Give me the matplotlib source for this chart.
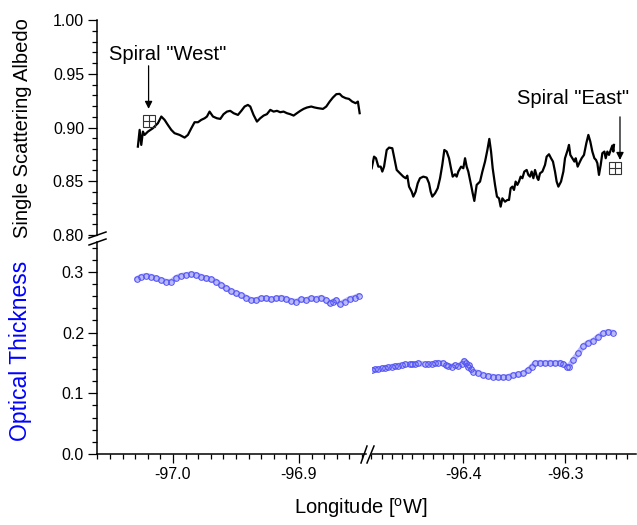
import matplotlib
matplotlib.use('Agg')
import matplotlib.pyplot as plt
from matplotlib.lines import Line2D
from matplotlib.ticker import MultipleLocator, FormatStrFormatter

plt.rcParams['font.family'] = ['Liberation Sans', 'DejaVu Sans']
plt.rcParams['mathtext.fontset'] = 'custom'
plt.rcParams['mathtext.rm'] = 'Liberation Sans'

# single scattering albedo, western leg
lon_alb_w = [-97.0278, -97.0264, -97.0251, -97.0238, -97.0225, -97.0198, -97.0159, -97.0119,
             -97.0092, -97.0066, -97.0040, -97.0013, -96.9987, -96.9947, -96.9907, -96.9881,
             -96.9854, -96.9828, -96.9801, -96.9775, -96.9748, -96.9730, -96.9709, -96.9682,
             -96.9651, -96.9624, -96.9598, -96.9571, -96.9545, -96.9518, -96.9484, -96.9457,
             -96.9431, -96.9405, -96.9386, -96.9360, -96.9333, -96.9307, -96.9280, -96.9254,
             -96.9227, -96.9201, -96.9174, -96.9148, -96.9122, -96.9095, -96.9069, -96.9042,
             -96.9016, -96.8989, -96.8963, -96.8936, -96.8902, -96.8875, -96.8849, -96.8809,
             -96.8783, -96.8756, -96.8730, -96.8703, -96.8677, -96.8656, -96.8629, -96.8603,
             -96.8577, -96.8550, -96.8532, -96.8518]
alb_w = [0.8822, 0.8978, 0.8838, 0.8962, 0.8931, 0.8962, 0.8993, 0.9040,
         0.9102, 0.9071, 0.9024, 0.8978, 0.8947, 0.8931, 0.8906, 0.8931,
         0.8993, 0.9049, 0.9049, 0.9071, 0.9086, 0.9102, 0.9148, 0.9102,
         0.9086, 0.9080, 0.9124, 0.9148, 0.9155, 0.9133, 0.9117, 0.9155,
         0.9195, 0.9210, 0.9195, 0.9117, 0.9055, 0.9086, 0.9111, 0.9124,
         0.9164, 0.9148, 0.9155, 0.9142, 0.9148, 0.9133, 0.9124, 0.9111,
         0.9133, 0.9155, 0.9173, 0.9186, 0.9195, 0.9186, 0.9180, 0.9173,
         0.9195, 0.9241, 0.9279, 0.9310, 0.9313, 0.9288, 0.9273, 0.9266,
         0.9241, 0.9226, 0.9241, 0.9133]

# single scattering albedo, eastern leg
lon_alb_e = [-96.4898, -96.4875, -96.4856, -96.4833, -96.4810, -96.4794, -96.4777, -96.4751,
             -96.4728, -96.4696, -96.4676, -96.4653, -96.4621, -96.4588, -96.4565, -96.4549,
             -96.4532, -96.4506, -96.4490, -96.4467, -96.4447, -96.4425, -96.4392, -96.4359,
             -96.4336, -96.4320, -96.4304, -96.4277, -96.4251, -96.4228, -96.4206, -96.4186,
             -96.4163, -96.4140, -96.4121, -96.4104, -96.4081, -96.4065, -96.4049, -96.4022,
             -96.4000, -96.3983, -96.3967, -96.3951, -96.3924, -96.3908, -96.3892, -96.3869,
             -96.3853, -96.3836, -96.3813, -96.3787, -96.3764, -96.3745, -96.3728, -96.3712,
             -96.3689, -96.3670, -96.3650, -96.3634, -96.3617, -96.3591, -96.3568, -96.3552,
             -96.3536, -96.3519, -96.3503, -96.3487, -96.3470, -96.3454, -96.3438, -96.3421,
             -96.3402, -96.3379, -96.3362, -96.3346, -96.3330, -96.3313, -96.3297, -96.3274,
             -96.3264, -96.3248, -96.3225, -96.3199, -96.3183, -96.3160, -96.3140, -96.3121,
             -96.3101, -96.3085, -96.3068, -96.3042, -96.3019, -96.3003, -96.2977, -96.2964,
             -96.2951, -96.2931, -96.2911, -96.2898, -96.2879, -96.2856, -96.2840, -96.2817,
             -96.2794, -96.2774, -96.2755, -96.2735, -96.2715, -96.2699, -96.2686, -96.2670,
             -96.2653, -96.2637, -96.2617, -96.2604, -96.2588, -96.2572, -96.2555, -96.2539,
             -96.2529, -96.2523]
alb_e = [0.8621, 0.8729, 0.8714, 0.8636, 0.8636, 0.8590, 0.8636, 0.8791,
         0.8813, 0.8807, 0.8714, 0.8605, 0.8574, 0.8543, 0.8528, 0.8552,
         0.8450, 0.8403, 0.8357, 0.8403, 0.8481, 0.8528, 0.8543, 0.8534,
         0.8481, 0.8403, 0.8357, 0.8388, 0.8435, 0.8528, 0.8652, 0.8791,
         0.8776, 0.8714, 0.8621, 0.8543, 0.8565, 0.8543, 0.8590, 0.8636,
         0.8621, 0.8714, 0.8636, 0.8590, 0.8466, 0.8388, 0.8317, 0.8466,
         0.8481, 0.8497, 0.8590, 0.8683, 0.8791, 0.8894, 0.8776, 0.8621,
         0.8466, 0.8357, 0.8341, 0.8264, 0.8341, 0.8310, 0.8326, 0.8326,
         0.8435, 0.8450, 0.8419, 0.8497, 0.8466, 0.8497, 0.8543, 0.8528,
         0.8590, 0.8605, 0.8559, 0.8543, 0.8590, 0.8528, 0.8605, 0.8528,
         0.8512, 0.8574, 0.8590, 0.8652, 0.8729, 0.8751, 0.8714, 0.8683,
         0.8590, 0.8497, 0.8450, 0.8497, 0.8590, 0.8714, 0.8791, 0.8838,
         0.8745, 0.8714, 0.8683, 0.8714, 0.8636, 0.8683, 0.8714, 0.8745,
         0.8854, 0.8931, 0.8869, 0.8776, 0.8714, 0.8698, 0.8668, 0.8559,
         0.8652, 0.8761, 0.8776, 0.8714, 0.8776, 0.8745, 0.8791, 0.8832,
         0.8776, 0.8838]

# optical thickness, western leg
lon_tau_w = [-97.0286, -97.0251, -97.0211, -97.0172, -97.0132, -97.0092, -97.0053, -97.0013,
             -96.9973, -96.9934, -96.9894, -96.9854, -96.9815, -96.9775, -96.9735, -96.9696,
             -96.9656, -96.9616, -96.9577, -96.9537, -96.9497, -96.9457, -96.9418, -96.9378,
             -96.9338, -96.9299, -96.9259, -96.9219, -96.9180, -96.9140, -96.9100, -96.9061,
             -96.9021, -96.8981, -96.8942, -96.8902, -96.8862, -96.8822, -96.8783, -96.8756,
             -96.8730, -96.8703, -96.8677, -96.8637, -96.8598, -96.8558, -96.8524]
tau_w = [0.2883, 0.2921, 0.2938, 0.2921, 0.2894, 0.2867, 0.2839, 0.2839,
         0.2905, 0.2938, 0.2949, 0.2965, 0.2949, 0.2921, 0.2894, 0.2878,
         0.2839, 0.2784, 0.2729, 0.2685, 0.2647, 0.2619, 0.2576, 0.2537,
         0.2537, 0.2565, 0.2565, 0.2548, 0.2565, 0.2576, 0.2554, 0.2521,
         0.2510, 0.2548, 0.2537, 0.2565, 0.2554, 0.2576, 0.2537, 0.2482,
         0.2510, 0.2537, 0.2466, 0.2510, 0.2554, 0.2576, 0.2608]

# optical thickness, eastern leg
lon_tau_e = [-96.4892, -96.4866, -96.4833, -96.4800, -96.4768, -96.4735, -96.4702, -96.4670,
             -96.4637, -96.4604, -96.4572, -96.4522, -96.4500, -96.4474, -96.4441, -96.4376,
             -96.4343, -96.4310, -96.4277, -96.4245, -96.4196, -96.4173, -96.4147, -96.4114,
             -96.4081, -96.4049, -96.4016, -96.3993, -96.3974, -96.3957, -96.3944, -96.3924,
             -96.3902, -96.3853, -96.3804, -96.3755, -96.3706, -96.3656, -96.3607, -96.3558,
             -96.3509, -96.3460, -96.3411, -96.3362, -96.3330, -96.3297, -96.3248, -96.3199,
             -96.3150, -96.3101, -96.3052, -96.3019, -96.2987, -96.2964, -96.2921, -96.2872,
             -96.2823, -96.2774, -96.2725, -96.2676, -96.2627, -96.2578, -96.2529]
tau_e = [0.1384, 0.1395, 0.1400, 0.1411, 0.1422, 0.1428, 0.1439, 0.1450,
         0.1455, 0.1466, 0.1477, 0.1477, 0.1483, 0.1483, 0.1494, 0.1477,
         0.1483, 0.1483, 0.1494, 0.1505, 0.1494, 0.1466, 0.1450, 0.1439,
         0.1466, 0.1450, 0.1483, 0.1538, 0.1494, 0.1439, 0.1466, 0.1395,
         0.1357, 0.1340, 0.1301, 0.1285, 0.1274, 0.1263, 0.1263, 0.1274,
         0.1301, 0.1313, 0.1329, 0.1384, 0.1439, 0.1494, 0.1505, 0.1494,
         0.1505, 0.1494, 0.1505, 0.1483, 0.1439, 0.1439, 0.1549, 0.1659,
         0.1779, 0.1834, 0.1867, 0.1933, 0.1988, 0.2015, 0.1999]

# spiral locations
spiral_w = (-97.0193, 0.9057)
spiral_e = (-96.2516, 0.8624)

xlim_w = (-97.06, -96.847)
xlim_e = (-96.49, -96.231)
ylim_top = (0.80, 1.00)
ylim_bot = (0.0, 0.35)

W, H = 637, 525
fig = plt.figure(figsize=(W / 100, H / 100), dpi=100)


def add_ax(x0, x1, y0, y1):
    # pixel box -> figure fraction
    return fig.add_axes([x0 / W, 1 - y1 / H, (x1 - x0) / W, (y1 - y0) / H])


ax_ul = add_ax(97.3, 365.7, 20, 235)
ax_ur = add_ax(371.5, 635.7, 20, 235)
ax_ll = add_ax(97.3, 365.7, 241.5, 454)
ax_lr = add_ax(371.5, 635.7, 241.5, 454)

for ax in (ax_ul, ax_ur, ax_ll, ax_lr):
    ax.patch.set_alpha(0)
    for s in ax.spines.values():
        s.set_visible(False)
        s.set_linewidth(1.1)
    ax.tick_params(which='both', direction='out', width=0.9, labelsize=11.5,
                   left=False, bottom=False, labelleft=False, labelbottom=False)
    ax.tick_params(which='major', length=6.5, pad=3)
    ax.tick_params(which='minor', length=3.5)

ax_ul.set_xlim(xlim_w)
ax_ll.set_xlim(xlim_w)
ax_ur.set_xlim(xlim_e)
ax_lr.set_xlim(xlim_e)
ax_ul.set_ylim(ylim_top)
ax_ur.set_ylim(ylim_top)
ax_ll.set_ylim(ylim_bot)
ax_lr.set_ylim(ylim_bot)

# left axes
for ax in (ax_ul, ax_ll):
    ax.spines['left'].set_visible(True)
    ax.tick_params(which='both', left=True, labelleft=True)
ax_ul.yaxis.set_major_locator(MultipleLocator(0.05))
ax_ul.yaxis.set_minor_locator(MultipleLocator(0.01))
ax_ul.yaxis.set_major_formatter(FormatStrFormatter('%.2f'))
ax_ll.yaxis.set_major_locator(MultipleLocator(0.1))
ax_ll.yaxis.set_minor_locator(MultipleLocator(0.02))
ax_ll.yaxis.set_major_formatter(FormatStrFormatter('%.1f'))

# bottom axes
for ax in (ax_ll, ax_lr):
    ax.spines['bottom'].set_visible(True)
    ax.tick_params(which='both', bottom=True, labelbottom=True)
    ax.xaxis.set_major_locator(MultipleLocator(0.1))
    ax.xaxis.set_minor_locator(MultipleLocator(0.01))
    ax.xaxis.set_major_formatter(FormatStrFormatter('%.1f'))

# data
ax_ul.plot(lon_alb_w, alb_w, color='k', lw=1.6)
ax_ur.plot(lon_alb_e, alb_e, color='k', lw=1.6)
blue_edge = (0.33, 0.33, 0.95)
blue_band = (0.72, 0.72, 1.0)
for ax, lo, ta in ((ax_ll, lon_tau_w, tau_w), (ax_lr, lon_tau_e, tau_e)):
    ax.plot(lo, ta, color=blue_band, lw=4.0, solid_capstyle='round')
    ax.plot(lo, ta, 'o', ls='none', ms=4.0, mfc='none', mec=blue_edge, mew=0.8)

# spiral markers, labels and arrows
for ax, (lo, al) in ((ax_ul, spiral_w), (ax_ur, spiral_e)):
    ax.plot(lo, al, marker='s', ms=9, mfc='none', mec='0.2', mew=0.8, clip_on=False)
    ax.plot(lo, al, marker='+', ms=9, mec='0.2', mew=0.8, clip_on=False)

ax_ul.text(-97.0042, 0.963, 'Spiral "West"', ha='center', va='baseline', fontsize=14.5)
ax_ur.text(-96.292, 0.922, 'Spiral "East"', ha='center', va='baseline', fontsize=14.5)
arrow = dict(arrowstyle='-|>', color='k', lw=0.9, mutation_scale=11, shrinkA=0, shrinkB=0)
ax_ul.annotate('', xy=(-97.0193, 0.9173), xytext=(-97.0193, 0.9574), arrowprops=arrow,
               annotation_clip=False)
ax_ur.annotate('', xy=(-96.2464, 0.8698), xytext=(-96.2464, 0.9099), arrowprops=arrow,
               annotation_clip=False)

# axis labels
fig.text(23 / W, 1 - 128 / H, 'Single Scattering Albedo', rotation=90,
         ha='center', va='center', fontsize=14.5)
fig.text(21 / W, 1 - 351 / H, 'Optical Thickness', rotation=90,
         ha='center', va='center', fontsize=16.5, color='blue')
fig.text(361 / W, 1 - 514 / H, r'Longitude [$^{\mathrm{o}}$W]', ha='center', va='baseline',
         fontsize=14.5)

# axis break marks
def slash(x0, y0, x1, y1):
    fig.add_artist(Line2D([x0 / W, x1 / W], [1 - y0 / H, 1 - y1 / H],
                          transform=fig.transFigure, color='k', lw=1.1))


slash(89, 238, 106, 232)
slash(89, 245, 106, 239)
slash(361, 463, 367, 446)
slash(367, 463, 374, 446)

fig.savefig('out.png', dpi=100)
